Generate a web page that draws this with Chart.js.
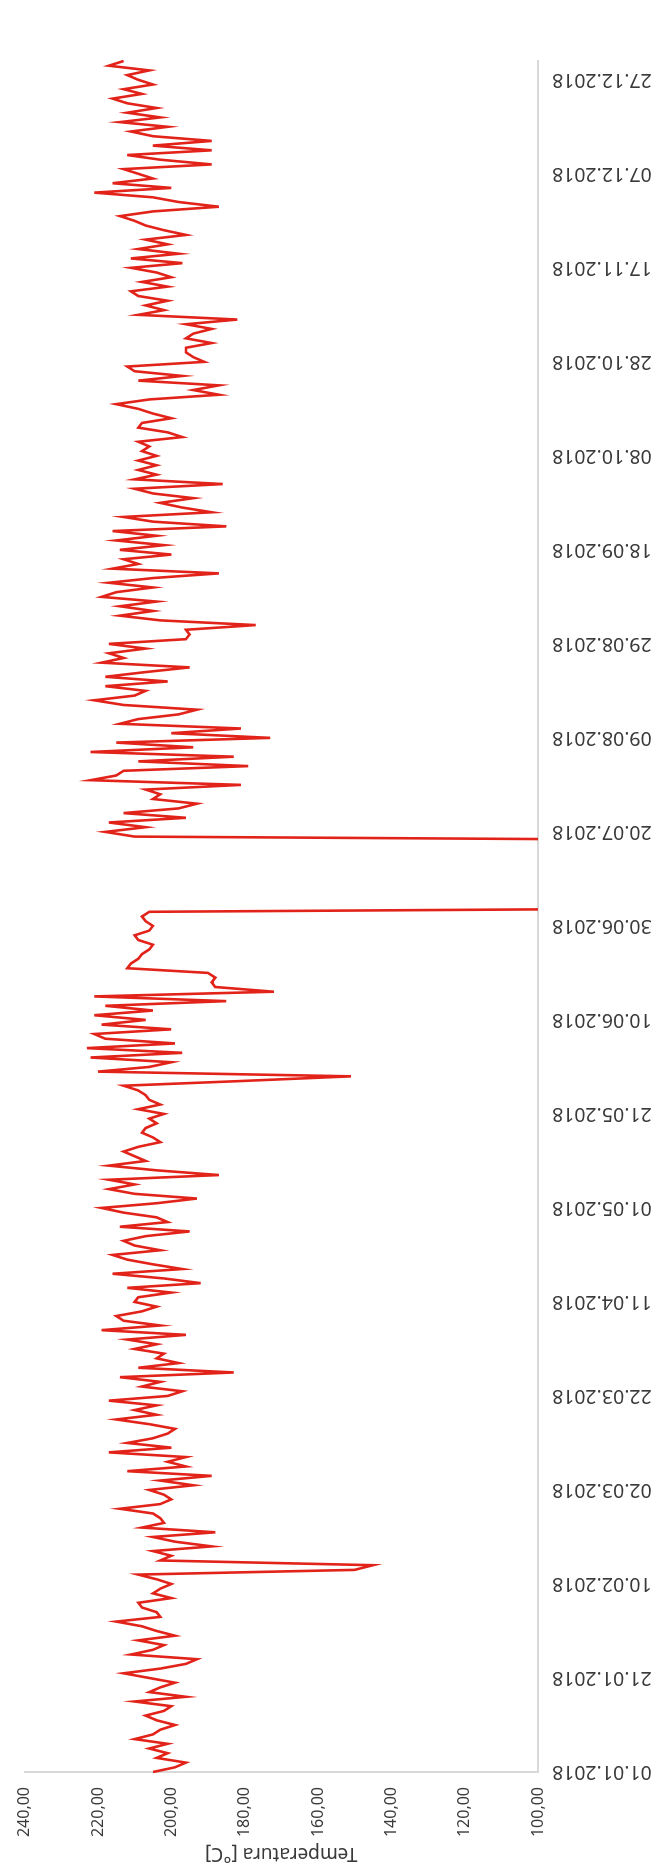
<!DOCTYPE html>
<html>
<head>
<meta charset="utf-8">
<title>Temperatura 2018</title>
<script src="https://cdn.jsdelivr.net/npm/chart.js@4.4.1/dist/chart.umd.min.js"></script>
<style>
  html, body { margin: 0; padding: 0; background: #ffffff; overflow: hidden; width: 665px; height: 1871px; }
  /* the chart is laid out landscape and turned a quarter turn counter-clockwise onto the portrait page */
  #frame { position: absolute; left: 0; top: 1871px; width: 1871px; height: 665px;
           transform-origin: 0 0; transform: rotate(-90deg); }
  #frame canvas { display: block; }
</style>
</head>
<body>
<div id="frame"><canvas id="chart" width="1871" height="665"></canvas></div>
<script>
// Daily temperature readings for 2018, one array per month (°C).
// 0 marks the days in July when the plant was shut down.
const jan = [205,199,196,204,201,206,201,210,205,203,199,204,207,202,200,210,196,206,203,199,206,213,203,196,193,211,205,202,209,199,204];
const feb = [208,215,203,204,208,209,200,205,203,200,204,209,150,145,203,200,205,189,199,205,188,208,202,203,205,214,203,200];
const mar = [202,206,194,203,189,212,196,201,196,217,200,212,205,201,199,206,215,204,210,204,217,201,197,208,203,214,183,209,198,204,202];
const apr = [210,204,212,196,219,203,213,215,208,204,210,209,200,212,192,202,216,197,205,212,216,203,210,213,207,195,214,201,204,213];
const may = [219,204,193,210,217,210,217,187,204,217,207,210,213,209,203,205,208,207,204,206,202,209,203,206,207,209,213,181,151,220,206];
const jun = [200,222,197,223,199,218,221,200,219,207,221,205,218,185,221,172,188,189,188,190,212,211,209,208,206,205,209,210,206,205];
const jul = [207,208,206,0,0,0,0,0,0,0,0,0,0,0,0,0,0,0,210,218,207,217,196,213,198,193,205,203,207,181,222];
const aug = [215,213,179,209,183,222,194,215,173,200,181,214,209,198,193,213,221,210,207,218,201,218,207,195,219,213,217,207,217,196,195];
const sep = [196,177,203,214,205,214,204,219,215,205,217,205,187,216,209,213,200,214,202,215,204,216,185,205,213,189,197,203,194,205];
const oct = [210,186,210,204,209,204,209,204,208,206,209,197,201,209,208,200,205,209,215,206,187,194,187,209,197,210,212,191,194,196,196];
const nov = [189,196,194,189,196,182,209,202,207,201,209,211,201,208,200,204,211,197,211,198,209,201,207,196,202,207,210,214,205,187];
const dec = [198,205,221,200,216,205,209,213,189,203,212,189,205,189,205,211,201,214,203,212,204,212,216,208,213,205,209,212,206,217,213];

// Dates printed along the time axis (every 20 days)
const dateTicks = ['01.01.2018','21.01.2018','10.02.2018','02.03.2018','22.03.2018','11.04.2018',
  '01.05.2018','21.05.2018','10.06.2018','30.06.2018','20.07.2018','09.08.2018','29.08.2018',
  '18.09.2018','08.10.2018','28.10.2018','17.11.2018','07.12.2018','27.12.2018'];
// Temperature axis ticks
const valueTicks = [100,120,140,160,180,200,220,240];

const months = [jan, feb, mar, apr, may, jun, jul, aug, sep, oct, nov, dec];
const pad2 = n => String(n).padStart(2, '0');
const labels = [];
months.forEach((arr, m) => arr.forEach((_, i) => labels.push(pad2(i + 1) + '.' + pad2(m + 1) + '.2018')));
const values = months.flat();

const FONT = "'Noto Sans', 'Liberation Sans', sans-serif";
const TEXT = '#3a3a3a';
const AXIS = '#d9d9d9';

new Chart(document.getElementById('chart'), {
  type: 'line',
  data: {
    labels: labels,
    datasets: [{
      data: values,
      borderColor: '#e2231a',
      borderWidth: 2.6,
      pointRadius: 0,
      pointHoverRadius: 0,
      tension: 0,
      fill: false
    }]
  },
  options: {
    responsive: false,
    devicePixelRatio: 1,
    animation: false,
    events: [],
    layout: { padding: { top: 18, right: 61, bottom: 0, left: 0 } },
    plugins: { legend: { display: false }, tooltip: { enabled: false } },
    scales: {
      x: {
        type: 'category',
        offset: false,
        grid: { display: false, drawTicks: false },
        border: { display: true, color: AXIS, width: 2 },
        ticks: {
          autoSkip: false,
          minRotation: 90,
          maxRotation: 90,
          padding: 14,
          color: TEXT,
          font: { family: FONT, size: 19.5 }
        },
        afterBuildTicks: s => { s.ticks = dateTicks.map(d => ({ value: labels.indexOf(d) })); },
        afterFit: s => { s.height = 127; }
      },
      y: {
        min: 100,
        max: 240,
        grid: { display: false, drawTicks: false },
        border: { display: true, color: AXIS, width: 2 },
        ticks: {
          padding: 15,
          color: TEXT,
          font: { family: FONT, size: 16 },
          callback: v => v.toFixed(2).replace('.', ',')
        },
        afterBuildTicks: s => { s.ticks = valueTicks.map(v => ({ value: v })); },
        afterFit: s => { s.width = 99; },
        title: {
          display: true,
          text: 'Temperatura [°C]',
          color: TEXT,
          font: { family: FONT, size: 19 },
          padding: { top: 6, bottom: 0 }
        }
      }
    }
  }
});
</script>
</body>
</html>
